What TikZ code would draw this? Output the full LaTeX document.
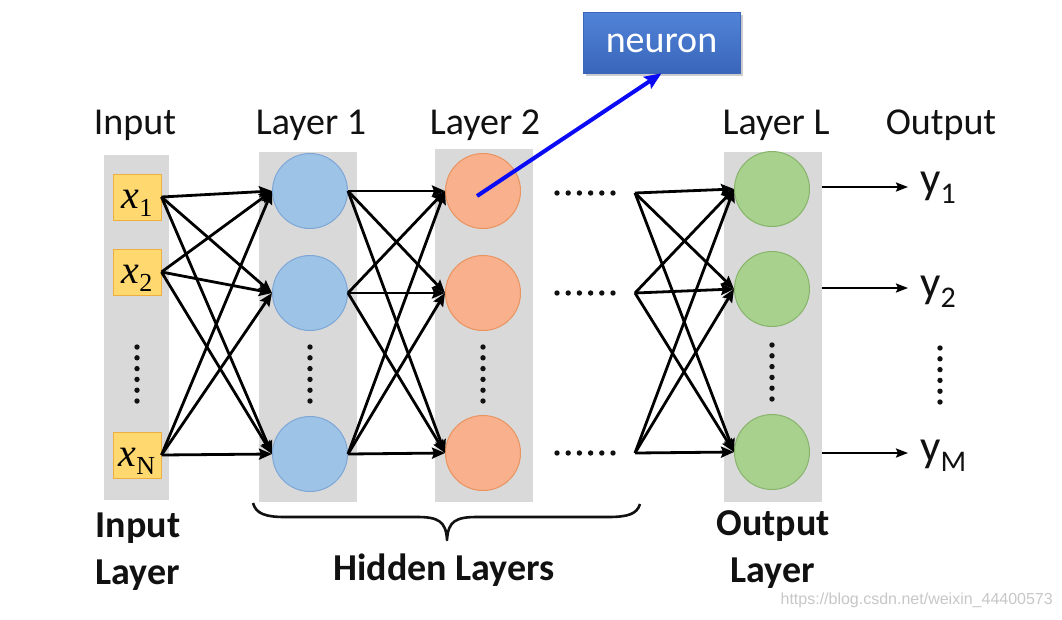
\documentclass[tikz,border=0pt]{standalone}
\usepackage{fontspec}
\setmainfont{Carlito}
\newfontfamily\timesf{Liberation Serif}
\newfontfamily\arialf{Liberation Sans}
\usetikzlibrary{arrows.meta,calc}
\definecolor{colgray}{HTML}{D9D9D9}
\definecolor{l1fill}{HTML}{9DC3E6}
\definecolor{l1draw}{HTML}{7EA6D6}
\definecolor{l2fill}{HTML}{F9B08C}
\definecolor{l2draw}{HTML}{E9935F}
\definecolor{lLfill}{HTML}{A9D18E}
\definecolor{lLdraw}{HTML}{86B46A}
\definecolor{inpfill}{HTML}{FFD970}
\definecolor{inpdraw}{HTML}{EDB040}
\definecolor{nrtop}{HTML}{5084D8}
\definecolor{nrbot}{HTML}{3A65BA}
\definecolor{txt}{HTML}{111111}
\begin{document}
\begin{tikzpicture}[x=1pt,y=-1pt,
  colbox/.style={fill=colgray,draw=none,inner sep=0pt,minimum width=#1},
  inbox/.style={fill=inpfill,draw=inpdraw,line width=1pt,inner sep=0pt,
    minimum width=48pt,minimum height=46pt,text height=22pt,text depth=0pt},
  neu/.style={circle,inner sep=0pt,minimum size=75pt,line width=1pt},
  n1/.style={neu,fill=l1fill,draw=l1draw},
  n2/.style={neu,fill=l2fill,draw=l2draw},
  nL/.style={neu,fill=lLfill,draw=lLdraw},
  toplab/.style={anchor=base,inner sep=0pt,text=txt,font=\fontsize{38}{38}\selectfont},
  botlab/.style={anchor=base,inner sep=0pt,text=txt,font=\bfseries\fontsize{38}{38}\selectfont},
  conn/.style={line width=2.8pt,-{Stealth[length=13pt,width=11pt,inset=2pt]}},
  outconn/.style={line width=2.2pt,-{Stealth[length=12pt,width=9pt,inset=2pt]}},
  bluearrow/.style={draw={rgb,255:red,10;green,10;blue,245},line width=4pt,
    -{Stealth[length=17pt,width=14pt,inset=3pt]}},
  ylab/.style={anchor=base west,inner sep=0pt,text=txt}
]
\useasboundingbox (0,0) rectangle (1062,619);
\fill[white] (0,0) rectangle (1062,619);

% columns
\node[colbox=65pt,minimum height=345pt] (colI) at (136.5,327.5) {};
\node[colbox=98pt,minimum height=350pt] (col1) at (308,327) {};
\node[colbox=98pt,minimum height=353pt] (col2) at (484,325.5) {};
\node[colbox=98pt,minimum height=350pt] (colL) at (773,327) {};

% input boxes
\newcommand{\xin}[1]{{\timesf\fontsize{40}{40}\selectfont\itshape x}\raisebox{-8pt}{\timesf\fontsize{26}{26}\selectfont #1}}
\node[inbox] (x1) at (137,197) {\xin{1}};
\node[inbox] (x2) at (137,272) {\xin{2}};
\node[inbox] (xN) at (137,455) {\xin{N}};

% neurons
\node[n1] (a1) at (310,191) {};
\node[n1] (a2) at (310,293) {};
\node[n1] (a3) at (310,454) {};
\node[n2] (b1) at (483,191) {};
\node[n2] (b2) at (483,293) {};
\node[n2] (b3) at (483,453) {};
\node[nL] (c1) at (772,189) {};
\node[nL] (c2) at (772,289) {};
\node[nL] (c3) at (772,452) {};

% vertical dots
\foreach \xx/\ys in {137/347,310/347,483/347,772/345,940/348}{
  \foreach \k in {0,...,5}{
    \fill[txt] (\xx,\ys+\k*10.8) circle (2.7pt);
  }
}
% horizontal dots
\foreach \yy in {193,293,453}{
  \foreach \k in {0,...,5}{
    \fill[txt] (557+\k*11.2,\yy) circle (2.7pt);
  }
}

% sources after dots
\coordinate (s1) at (635,193);
\coordinate (s2) at (635,293);
\coordinate (s3) at (635,453);

% connections
\foreach \i in {x1,x2,xN}{
  \foreach \j in {a1,a2,a3}{
    \draw[conn] (\i.east) -- (\j.west);
  }
}
\foreach \i in {a1,a2,a3}{
  \foreach \j in {b1,b2,b3}{
    \draw[conn] (\i.east) -- (\j.west);
  }
}
\foreach \i in {s1,s2,s3}{
  \foreach \j in {c1,c2,c3}{
    \draw[conn] (\i) -- (\j.west);
  }
}

% outputs
\coordinate (o1) at (822,187);
\coordinate (o2) at (822,288);
\coordinate (o3) at (822,453);
\coordinate (e1) at (908,187);
\coordinate (e2) at (908,288);
\coordinate (e3) at (908,453);
\draw[outconn] (o1) -- (e1);
\draw[outconn] (o2) -- (e2);
\draw[outconn] (o3) -- (e3);
\newcommand{\yout}[1]{{\fontsize{45}{45}\selectfont y}\raisebox{-10pt}{\fontsize{30}{30}\selectfont #1}}
\node[ylab] (y1) at (920,193) {\yout{1}};
\node[ylab] (y2) at (920,297) {\yout{2}};
\node[ylab] (yM) at (920,461) {\yout{M}};

% top labels
\node[toplab] (tIn) at (135,134) {Input};
\node[toplab] (tL1) at (311,134) {Layer 1};
\node[toplab] (tL2) at (485,134) {Layer 2};
\node[toplab] (tLL) at (776,134) {Layer L};
\node[toplab] (tOut) at (941,134) {Output};

% bottom labels
\node[botlab] (bIn1) at (138,537) {Input};
\node[botlab] (bIn2) at (138,584) {Layer};
\node[botlab] (bHid) at (444,580) {Hidden Layers};
\node[botlab] (bOut1) at (773,535) {Output};
\node[botlab] (bOut2) at (773,582) {Layer};

% brace
\draw[txt,line width=2.6pt,line join=round] (253,503) .. controls (256,514) and (266,517) .. (285,517)
  -- (417,517) .. controls (438,517) and (446,521) .. (447,540)
  .. controls (448,521) and (456,517) .. (477,517)
  -- (608,517) .. controls (628,517) and (637,514) .. (640,504);

% neuron callout
\fill[black!20] (586,15) rectangle (743,76);
\node[rectangle,top color=nrtop,bottom color=nrbot,draw=nrbot,line width=0.6pt,
  minimum width=157pt,minimum height=61pt,inner sep=0pt,text=white,
  text height=26pt,text depth=6pt,
  font=\fontsize{38}{38}\selectfont] (neuron) at (661.5,42.5) {neuron};
\draw[bluearrow] ($(b1.center)+(-6,5)$) -- (neuron.south);

% watermark
\node[anchor=east,inner sep=0pt,text=black!22,font=\arialf\fontsize{16}{16}\selectfont] (wm) at (1053,600) {https://blog.csdn.net/weixin\_44400573};
\end{tikzpicture}
\end{document}
